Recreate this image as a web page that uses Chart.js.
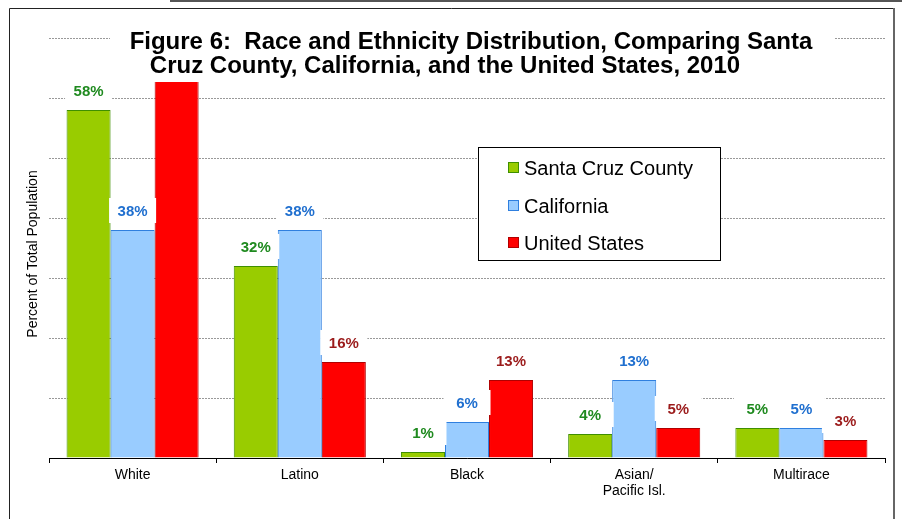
<!DOCTYPE html>
<html>
<head>
<meta charset="utf-8">
<script src="https://cdn.jsdelivr.net/npm/chart.js@4"></script>
<style>
  html, body { margin: 0; padding: 0; background: #fff; }
  #wrap { width: 902px; height: 519px; }
</style>
</head>
<body>
<div id="wrap"><canvas id="race-chart" width="902" height="519"></canvas></div>
<script>
// values
const categories = ['White', 'Latino', 'Black', ['Asian/', 'Pacific Isl.'], 'Multirace'];
const seriesNames = ['Santa Cruz County', 'California', 'United States'];
const santaCruz = [58, 32, 1, 4, 5];
const california = [38, 38, 6, 13, 5];
const unitedStates = [64, 16, 13, 5, 3];

const fills = ['#99cc00', '#99ccff', '#ff0000'];
const borders = ['#3f8f00', '#2f7fdf', '#b00000'];
const labelColors = ['#1f8a1f', '#1f6fcf', '#9b1b1b'];
const FONT = "'Liberation Sans', Arial, sans-serif";

const decorations = {
    id: 'decorations',
    beforeDraw(chart) {
        const c = chart.ctx;
        c.save();
        c.fillStyle = '#fff';
        c.fillRect(0, 0, chart.width, chart.height);
        // strip of the page above
        c.fillStyle = '#555';
        c.fillRect(170, 0, 732, 2);
        // frame
        c.strokeStyle = '#222';
        c.lineWidth = 1;
        c.beginPath();
        c.moveTo(9.5, 519);
        c.lineTo(9.5, 8.5);
        c.lineTo(894, 8.5);
        c.stroke();
        c.fillStyle = '#666';
        c.fillRect(893, 8, 2, 511);
        c.restore();
    },
    afterDatasetsDraw(chart) {
        const c = chart.ctx;
        c.save();
        // value labels with white boxes
        chart.data.datasets.forEach((ds, di) => {
            const meta = chart.getDatasetMeta(di);
            meta.data.forEach((bar, i) => {
                const w = bar.width + 3;
                c.fillStyle = '#fff';
                c.fillRect(bar.x - w / 2, bar.y - 32, w, 25);
                c.fillStyle = labelColors[di];
                c.font = 'bold 15px ' + FONT;
                c.textAlign = 'center';
                c.textBaseline = 'alphabetic';
                c.fillText(Math.round(ds.data[i]) + '%', bar.x, bar.y - 14);
            });
        });

        // title over the plot
        c.fillStyle = '#fff';
        c.fillRect(110, 20, 725, 62);
        c.fillStyle = '#000';
        c.font = 'bold 24px ' + FONT;
        c.textAlign = 'center';
        c.textBaseline = 'alphabetic';
        c.fillText('Figure 6:  Race and Ethnicity Distribution, Comparing Santa', 471, 49);
        c.fillText('Cruz County, California, and the United States, 2010', 445, 73);

        // legend
        c.fillStyle = '#fff';
        c.fillRect(478, 147, 242, 113);
        c.strokeStyle = '#000';
        c.lineWidth = 1;
        c.strokeRect(478.5, 147.5, 242, 113);
        const rows = [175, 213, 250];
        chart.data.datasets.forEach((ds, di) => {
            c.fillStyle = ds.backgroundColor;
            c.fillRect(508, rows[di] - 13, 11, 11);
            c.strokeStyle = ds.borderColor;
            c.strokeRect(508.5, rows[di] - 12.5, 10, 10);
            c.fillStyle = '#000';
            c.font = '20px ' + FONT;
            c.textAlign = 'left';
            c.textBaseline = 'alphabetic';
            c.fillText(ds.label, 524, rows[di]);
        });

        // y axis title
        c.translate(33, 254);
        c.rotate(-Math.PI / 2);
        c.fillStyle = '#000';
        c.font = '14px ' + FONT;
        c.textAlign = 'center';
        c.textBaseline = 'middle';
        c.fillText('Percent of Total Population', 0, 0);
        c.restore();
    }
};

const ctx = document.getElementById('race-chart').getContext('2d');
new Chart(ctx, {
    type: 'bar',
    data: {
        labels: categories,
        datasets: [santaCruz, california, unitedStates].map((vals, i) => ({
            label: seriesNames[i],
            data: vals,
            backgroundColor: fills[i],
            borderColor: borders[i],
            borderWidth: 1,
            barPercentage: 1.0,
            categoryPercentage: 0.79
        }))
    },
    options: {
        responsive: false,
        animation: false,
        layout: { padding: { left: 49, right: 17, top: 38, bottom: 0 } },
        plugins: {
            legend: { display: false },
            title: { display: false },
            tooltip: { enabled: false }
        },
        scales: {
            x: {
                grid: { drawOnChartArea: false, drawTicks: true, tickLength: 5, color: '#000' },
                border: { display: true, color: '#000', width: 1 },
                ticks: { color: '#000', font: { family: FONT, size: 14, lineHeight: 1.15 }, padding: 4, maxRotation: 0 },
                afterFit(scale) { scale.height = 61; }
            },
            y: {
                min: 0,
                max: 70,
                ticks: { display: false, stepSize: 10 },
                grid: { drawTicks: false, color: '#999', lineWidth: 1 },
                border: { display: false, dash: [2, 1] },
                afterFit(scale) { scale.width = 0; }
            }
        }
    },
    plugins: [decorations]
});
</script>
</body>
</html>
